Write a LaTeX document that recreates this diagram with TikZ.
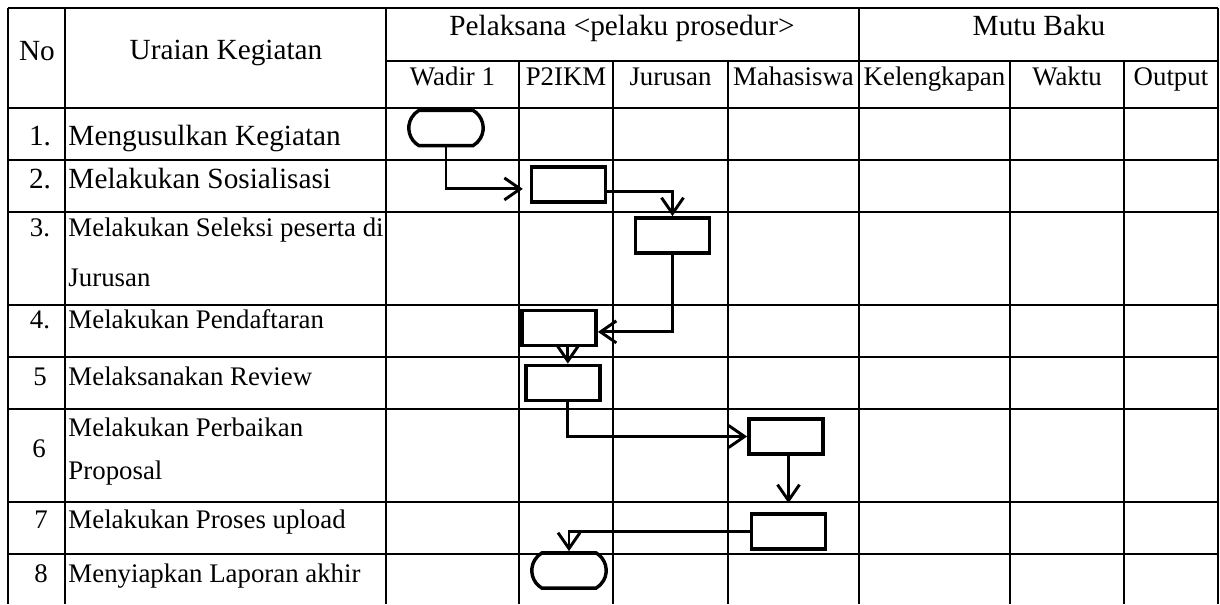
\documentclass[tikz,border=0pt]{standalone}
\usepackage{fontspec}
\setmainfont{Liberation Serif}
\usetikzlibrary{arrows.meta,shapes.misc}

\tikzset{
  grid/.style={line width=0.8pt},
  lbl/.style={inner sep=0pt, font=\fontsize{11}{13}\selectfont},
  biglbl/.style={inner sep=0pt, font=\fontsize{12}{14}\selectfont},
  proc/.style={draw, line width=1.4pt, minimum width=30.5pt, minimum height=14.5pt, inner sep=0pt},
  term/.style={proc, rounded rectangle, rounded rectangle arc length=120},
  flow/.style={line width=1.2pt, -{Straight Barb[length=6.5pt,width=9pt]}},
}

\begin{document}
\begin{tikzpicture}[x=0.41pt, y=-0.41pt]
\useasboundingbox (0,0) rectangle (1220,604);

% table
\draw[grid] (8,8) -- (1218,8);
\draw[grid] (386,61) -- (1218,61);
\foreach \y in {108,160,212,305,357,409,502,554}
  \draw[grid] (8,\y) -- (1218,\y);
\foreach \x in {8,65,386,859,1218}
  \draw[grid] (\x,8) -- (\x,604);
\foreach \x in {519,613,728,1010,1124}
  \draw[grid] (\x,61) -- (\x,604);

% header
\node[biglbl, anchor=base] (no) at (37,60) {No};
\node[biglbl, anchor=base] (uraian) at (226,59) {Uraian Kegiatan};
\node[biglbl, anchor=base] (pelaksana) at (622,35) {Pelaksana <pelaku prosedur>};
\node[biglbl, anchor=base] (mutu) at (1039,35) {Mutu Baku};
\foreach \x/\t/\n in {452.5/Wadir 1/wadir, 566/P2IKM/ptik, 670.5/Jurusan/jurusan,
    793.5/Mahasiswa/mhs, 934.5/Kelengkapan/lengkap, 1067/Waktu/waktu, 1171/Output/output}
  \node[lbl, anchor=base] (\n) at (\x,85) {\t};

% rows
\node[biglbl, anchor=base] (n1) at (40,145) {1.};
\node[biglbl, anchor=base west] (r1) at (68,145) {Mengusulkan Kegiatan};
\node[biglbl, anchor=base] (n2) at (40,188) {2.};
\node[biglbl, anchor=base west] (r2) at (68,188) {Melakukan Sosialisasi};
\node[lbl, anchor=base] (n3) at (40,236) {3.};
\node[lbl, anchor=base west] (r3a) at (68,236) {Melakukan Seleksi peserta di};
\node[lbl, anchor=base west] (r3b) at (68,286) {Jurusan};
\node[lbl, anchor=base] (n4) at (40,328) {4.};
\node[lbl, anchor=base west] (r4) at (68,328) {Melakukan Pendaftaran};
\node[lbl, anchor=base] (n5) at (40,385) {5};
\node[lbl, anchor=base west] (r5) at (68,385) {Melaksanakan Review};
\node[lbl, anchor=base] (n6) at (39,457) {6};
\node[lbl, anchor=base west] (r6a) at (68,436) {Melakukan Perbaikan};
\node[lbl, anchor=base west] (r6b) at (68,479) {Proposal};
\node[lbl, anchor=base] (n7) at (41,528) {7};
\node[lbl, anchor=base west] (r7) at (68,528) {Melakukan Proses upload};
\node[lbl, anchor=base] (n8) at (41,582) {8};
\node[lbl, anchor=base west] (r8) at (68,582) {Menyiapkan Laporan akhir};

% flow
\node[term] (t1) at (446,128) {};
\node[proc] (b2) at (568.5,184.5) {};
\node[proc] (b3) at (672.5,235.5) {};
\node[proc] (b4) at (559,328) {};
\node[proc] (b5) at (563,383) {};
\node[proc] (b6) at (786,436.5) {};
\node[proc] (b7) at (788.5,531.5) {};
\node[term] (t8) at (569,570.5) {};
\coordinate (b5in) at ([xshift=2pt]b5.north);

\draw[flow, shorten >=2.8pt] (t1.south) |- ([yshift=-1.8pt]b2.west);
\draw[flow] ([yshift=-2.7pt]b2.east) -| (b3.north);
\draw[flow] (b3.south) |- ([yshift=-1.6pt]b4.east);
\draw[flow] (b4.south -| b5in) -- (b5in);
\draw[flow] (b5in |- b5.south) |- (b6.west);
\draw[flow, shorten >=3.7pt] (b7.north |- b6.south) -- (b7.north);
\draw[flow] (b7.west) -| (t8.north);

\end{tikzpicture}
\end{document}
